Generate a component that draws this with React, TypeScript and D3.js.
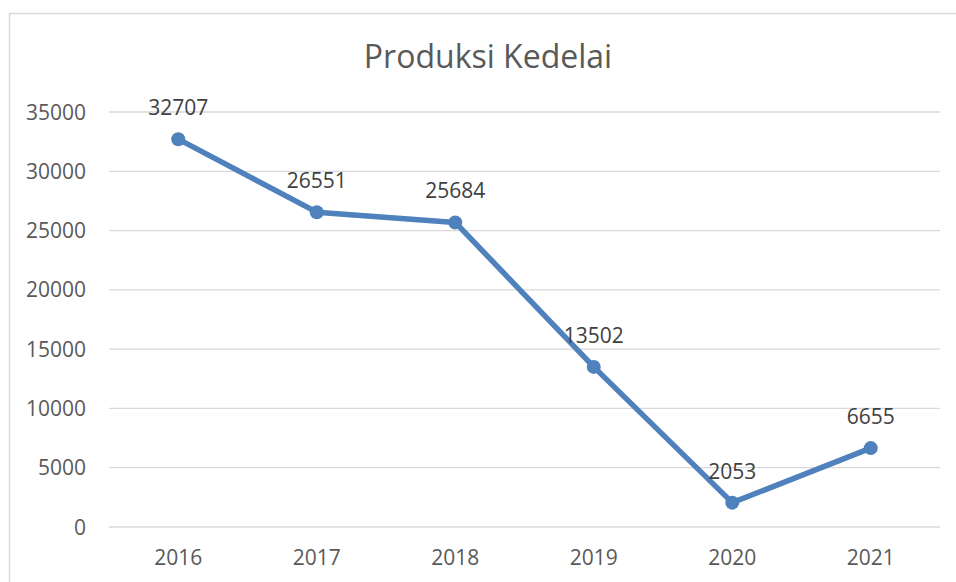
import React from "react";
import * as d3 from "d3";

const categories = ["2016", "2017", "2018", "2019", "2020", "2021"];
const values = [32707, 26551, 25684, 13502, 2053, 6655];
const yTicks = [0, 5000, 10000, 15000, 20000, 25000, 30000, 35000];
const title = "Produksi Kedelai";

const W = 956;
const H = 582;
const FONT = "'Open Sans', sans-serif";
const TEXT = "#595959";
const BLUE = "#4f81bd";

export default function App() {
  const x = d3.scaleBand<string>().domain(categories).range([109, 940]);
  const y = d3.scaleLinear().domain([0, 35000]).range([527, 112]);
  const cx = (c: string) => (x(c) as number) + x.bandwidth() / 2;
  const line = d3
    .line<number>()
    .x((_, i) => cx(categories[i]))
    .y((v) => y(v));

  return (
    <svg
      width={W}
      height={H}
      style={{ position: "absolute", left: 0, top: 0, background: "#fff" }}
    >
      <rect x={0} y={0} width={W} height={H} fill="#fff" />
      <path d={`M9.5,${H} V13.5 H${W}`} fill="none" stroke="#d9d9d9" strokeWidth={1.5} />
      <text
        x={488}
        y={68}
        textAnchor="middle"
        fontFamily={FONT}
        fontSize={32}
        fill={TEXT}
      >
        {title}
      </text>
      {yTicks.map((t) => (
        <g key={t}>
          <line
            x1={109}
            x2={940}
            y1={y(t)}
            y2={y(t)}
            stroke="#d9d9d9"
            strokeWidth={1.3}
          />
          <text
            x={86}
            y={y(t)}
            dy="0.36em"
            textAnchor="end"
            fontFamily={FONT}
            fontSize={21}
            fill={TEXT}
          >
            {t}
          </text>
        </g>
      ))}
      {categories.map((c) => (
        <text
          key={c}
          x={cx(c)}
          y={565}
          textAnchor="middle"
          fontFamily={FONT}
          fontSize={21}
          fill={TEXT}
        >
          {c}
        </text>
      ))}
      <path
        d={line(values) as string}
        fill="none"
        stroke={BLUE}
        strokeWidth={5.5}
        strokeLinejoin="round"
      />
      {values.map((v, i) => (
        <g key={i}>
          <circle cx={cx(categories[i])} cy={y(v)} r={7} fill={BLUE} />
          <text
            x={cx(categories[i])}
            y={y(v) - 24}
            textAnchor="middle"
            fontFamily={FONT}
            fontSize={21}
            fill="#404040"
          >
            {v}
          </text>
        </g>
      ))}
    </svg>
  );
}
